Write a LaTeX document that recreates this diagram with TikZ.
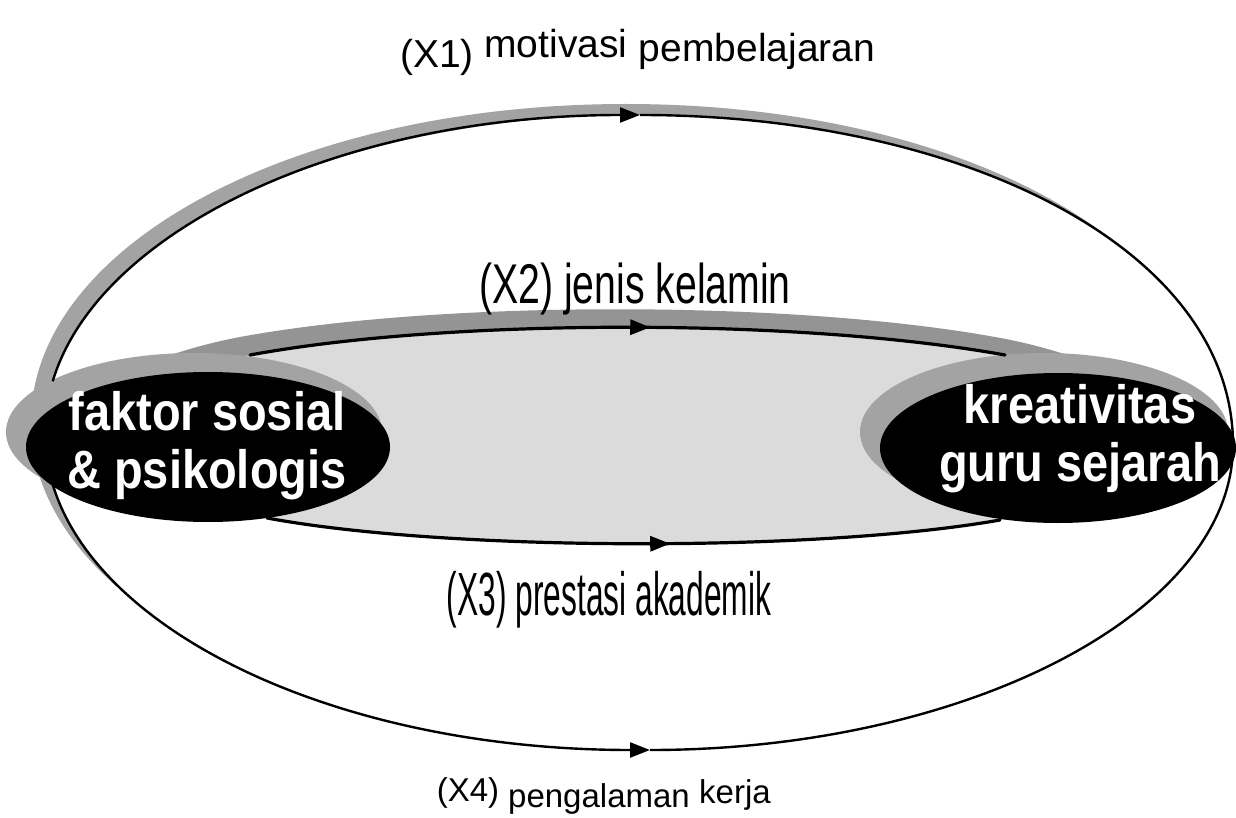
\documentclass[tikz,border=0pt]{standalone}
\usepackage{fontspec}
\setmainfont{Liberation Sans}
\newfontfamily\ellfont[FakeStretch=0.87]{Liberation Sans}
\newfontfamily\xtwofont[FakeStretch=0.70]{Liberation Sans}
\newfontfamily\xthreefont[FakeStretch=0.52]{Liberation Sans}
\usetikzlibrary{arrows.meta,decorations.markings,shapes.geometric}
\definecolor{shadowgray}{gray}{0.64}
\definecolor{bandgray}{gray}{0.58}
\definecolor{halogray}{gray}{0.64}
\definecolor{lensgray}{gray}{0.86}
\begin{document}
\begin{tikzpicture}[x=1pt,y=-1pt,
  outerline/.style={line width=2.4pt, black},
  innerline/.style={line width=3.2pt, black, line cap=round},
  tipend/.style={-{Triangle[length=20pt,width=15pt]}},
  midarrow/.style={postaction={decorate}, decoration={markings,
      mark=at position #1 with {\arrow{Triangle[length=20pt,width=15pt]}}}},
  blackell/.style={ellipse, fill=black, inner sep=0pt},
  elltext/.style={text=white, align=center, inner sep=0pt,
      font=\ellfont\bfseries\fontsize{54}{58}\selectfont},
  xone/.style={anchor=base, inner sep=0pt, font=\fontsize{39}{39}\selectfont},
  xfour/.style={anchor=base, inner sep=0pt, font=\fontsize{33}{33}\selectfont},
  ]
\useasboundingbox (0,0) rectangle (1236,818);
\fill[white] (0,0) rectangle (1236,818);

% named points of the outer loop
\coordinate (Lt) at (52.7,381.3);
\coordinate (Lb) at (52.7,484.4);
\coordinate (T) at (640,115);
\coordinate (B) at (650,750);
\coordinate (Rp) at (1233,445);

% shadow of the outer loop, then its white inside
\fill[shadowgray, shift={(-14,-11)}] (45,433) .. controls (45,257) and (307,115) .. (640,115)
  .. controls (965,115) and (1233,250) .. (1233,445)
  .. controls (1233,613) and (965,750) .. (650,750)
  .. controls (307,750) and (45,608) .. cycle;
\fill[white] (45,433) .. controls (45,257) and (307,115) .. (640,115)
  .. controls (965,115) and (1233,250) .. (1233,445)
  .. controls (1233,613) and (965,750) .. (650,750)
  .. controls (307,750) and (45,608) .. cycle;

% lens between the two ellipses: shadow, then fill
\fill[bandgray, shift={(-10,-18)}] (40,440) .. controls (100,400) and (180,368) .. (250,355)
  .. controls (450,318) and (800,318) .. (1005,355)
  .. controls (1080,368) and (1160,400) .. (1200,440) -- (1200,470)
  .. controls (1150,490) and (1080,505) .. (1000,520)
  .. controls (820,552) and (450,552) .. (267,518)
  .. controls (180,502) and (100,490) .. (40,470) -- cycle;
\fill[lensgray] (40,440) .. controls (100,400) and (180,368) .. (250,355)
  .. controls (450,318) and (800,318) .. (1005,355)
  .. controls (1080,368) and (1160,400) .. (1200,440) -- (1200,470)
  .. controls (1150,490) and (1080,505) .. (1000,520)
  .. controls (820,552) and (450,552) .. (267,518)
  .. controls (180,502) and (100,490) .. (40,470) -- cycle;

% halos of the black ellipses
\fill[halogray] (194,432) ellipse [x radius=188, y radius=79];
\fill[halogray] (1044,432) ellipse [x radius=184, y radius=79];

% outer connectors (X1 top, X4 bottom)
\draw[outerline, tipend] (Lt) .. controls (98,230) and (342,115) .. (T);
\draw[outerline] (T) .. controls (965,115) and (1233,250) .. (Rp);
\draw[outerline, tipend] (Lb) .. controls (98,635) and (342,750) .. (B);
\draw[outerline] (B) .. controls (965,750) and (1233,613) .. (Rp);

% inner connectors (X2 top, X3 bottom)
\coordinate (X2s) at (250,355);
\coordinate (X2e) at (1005,355);
\coordinate (X3s) at (267,518);
\coordinate (X3e) at (1000,520);
\draw[innerline, midarrow=0.53] (X2s) .. controls (450,318) and (800,318) .. (X2e);
\draw[innerline, midarrow=0.55] (X3s) .. controls (450,552) and (820,552) .. (X3e);

% black ellipses
\node[blackell, minimum width=364pt, minimum height=150pt] (L) at (208,447) {};
\node[blackell, minimum width=356pt, minimum height=150pt] (R) at (1058,448) {};
\node[elltext] (Ltext) at (207,446) {faktor sosial\\\& psikologis};
\node[elltext] (Rtext) at (1080,439) {kreativitas\\guru sejarah};

% labels
\node[anchor=base, inner sep=0pt, font=\xtwofont\fontsize{56}{56}\selectfont] (x2) at (635,303) {(X2) jenis kelamin};
\node[anchor=base, inner sep=0pt, font=\xthreefont\fontsize{61}{61}\selectfont] (x3) at (609,615) {(X3) prestasi akademik};

\node[xone] (x1a) at (437,68) {(X1)};
\node[xone] (x1b) at (556,58) {motivasi};
\node[xone] (x1c) at (757,62) {pembelajaran};

\node[xfour] (x4a) at (468,801) {(X4)};
\node[xfour] (x4b) at (599,807) {pengalaman};
\node[xfour] (x4c) at (735,803) {kerja};
\end{tikzpicture}
\end{document}
